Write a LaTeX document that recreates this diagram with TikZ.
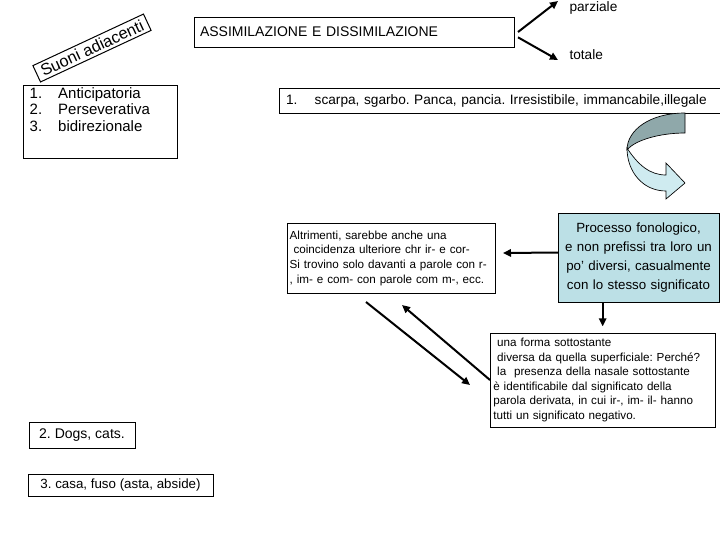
\documentclass[tikz,border=0pt]{standalone}
\usepackage{fontspec}
\setmainfont{Liberation Sans}
\usetikzlibrary{arrows.meta,positioning}
\definecolor{tealbox}{RGB}{188,224,230}
\definecolor{arrowdark}{RGB}{143,168,170}
\definecolor{arrowlight}{RGB}{207,235,240}
\frenchspacing
\begin{document}
\begin{tikzpicture}[x=0.75pt, y=-0.75pt, line width=0.75pt]
    \tikzstyle{box_style} = [draw=black, anchor=north west, inner sep=0pt, outer sep=0pt]
    \tikzstyle{label_style} = [anchor=west, inner sep=0pt, font=\fontsize{10.25}{12}\selectfont]
    \tikzstyle{edge_style} = [draw=black, line width=1.5pt, -{Triangle[length=6pt,width=5.5pt]}]
    \useasboundingbox (0,0) rectangle (720,540);

    \node[draw, rotate=25, minimum width=91.5pt, minimum height=13.5pt, inner xsep=2pt, inner ysep=0.5pt,
          font=\fontsize{12.25}{13}\selectfont] (suoni) at (92,48) {Suoni adiacenti};
    \node[box_style, font=\fontsize{11.25}{12.5}\selectfont] (lista) at (23,85)
        {\begin{minipage}[t][55pt][t]{115.5pt}\vspace{1pt}\hspace{5pt}%
         \begin{tabular}{@{}l@{\hspace{12pt}}l@{}}
         1. & Anticipatoria\\ 2. & Perseverativa\\ 3. & bidirezionale
         \end{tabular}\end{minipage}};

    \node[box_style, minimum width=240pt, minimum height=22.5pt, text width=231pt,
          inner xsep=4.5pt, align=left, font=\fontsize{10.5}{12}\selectfont] (assim) at (194,17)
        {ASSIMILAZIONE E DISSIMILAZIONE};
    \node[label_style] (parziale) at (569,8) {parziale};
    \node[label_style] (totale) at (569,55) {totale};
    \coordinate (pz) at (558,1);
    \coordinate (tt) at (558,60);
    \draw[edge_style] ([xshift=3pt]assim.east) -- (pz);
    \draw[edge_style] ([xshift=3pt,yshift=-4pt]assim.east) -- (tt);

    \node[box_style, minimum width=329pt, minimum height=18.75pt, text width=323pt,
          inner xsep=5.25pt, align=left, font=\fontsize{10.25}{12}\selectfont] (esempi) at (279,88)
        {1.\hspace{13pt}scarpa, sgarbo. Panca, pancia. Irresistibile, immancabile,illegale};

    % freccia curva
    \filldraw[fill=arrowdark, line width=0.5pt] (685,113) .. controls (650,113) and (627,130) .. (627,150)
        .. controls (635,140) and (660,133) .. (685,133) -- cycle;
    \filldraw[fill=arrowlight, line width=0.5pt] (627,148) .. controls (638,165) and (650,175) .. (666,175)
        -- (666,163) -- (685,183) -- (666,199) -- (666,191)
        .. controls (643,191) and (627,172) .. (627,148) -- cycle;

    \node[box_style, fill=tealbox, minimum width=120.75pt, minimum height=66.75pt, text width=118pt,
          align=center, font=\fontsize{10}{14.2}\selectfont] (processo) at (558,213)
        {Processo fonologico,\\ e non prefissi tra loro un\\ po' diversi, casualmente\\ con lo stesso significato};

    \node[box_style, minimum width=154.5pt, minimum height=52.5pt, text width=152pt,
          inner xsep=2pt, align=left, font=\fontsize{8.75}{11}\selectfont] (altrimenti) at (287,223)
        {Altrimenti, sarebbe anche una\\ \ coincidenza ulteriore chr ir- e cor-\\ Si trovino solo davanti a parole con r-\\ , im- e com- con parole com m-, ecc.};

    \node[box_style, minimum width=167.25pt, minimum height=70.5pt, text width=164pt,
          inner xsep=2.5pt, align=left, font=\fontsize{8.75}{10.9}\selectfont] (forma) at (490,333)
        {\ una forma sottostante\\ \ diversa da quella superficiale: Perché?\\ \ la \ presenza della nasale sottostante\\ è identificabile dal significato della\\ parola derivata, in cui ir-, im- il- hanno\\ tutti un significato negativo.};

    \draw[edge_style] ([yshift=3.75pt]processo.west) -- ([yshift=3.75pt,xshift=6pt]altrimenti.east);
    \draw[edge_style] (processo.south -| forma.north) -- ([yshift=5pt]forma.north);

    \coordinate (d1s) at (366,302);
    \coordinate (d1e) at (470,385);
    \coordinate (d2e) at (402,305);
    \draw[edge_style] (d1s) -- (d1e);
    \draw[edge_style] (forma.west) -- (d2e);

    \node[box_style, minimum width=79.5pt, minimum height=19.5pt, inner xsep=4.5pt,
          font=\fontsize{10.5}{12}\selectfont] (dogs) at (29,422) {2. Dogs, cats.};
    \node[box_style, minimum width=138.75pt, minimum height=16.5pt, inner xsep=5pt,
          font=\fontsize{10}{12}\selectfont] (casa) at (28,474) {3. casa, fuso (asta, abside)};
\end{tikzpicture}
\end{document}
